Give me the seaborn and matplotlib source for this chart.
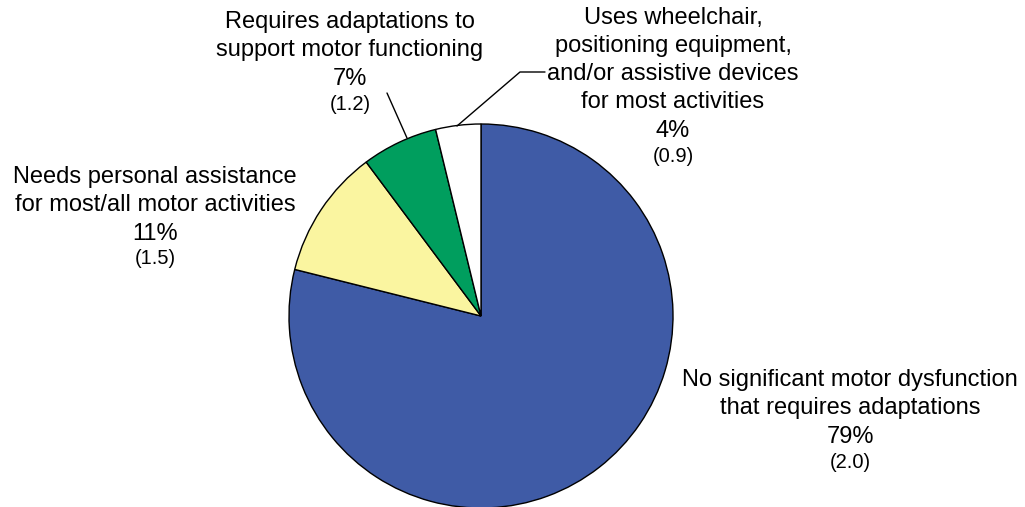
import matplotlib
matplotlib.use("Agg")
import matplotlib.pyplot as plt
import seaborn as sns

# categories, shares, printed percent and value
labels = [
    "No significant motor dysfunction\nthat requires adaptations",
    "Needs personal assistance\nfor most/all motor activities",
    "Requires adaptations to\nsupport motor functioning",
    "Uses wheelchair,\npositioning equipment,\nand/or assistive devices\nfor most activities",
]
shares = [78.9, 10.9, 6.4, 3.8]
pct_text = ["79%", "11%", "7%", "4%"]
val_text = ["(2.0)", "(1.5)", "(1.2)", "(0.9)"]
colors = ["#3F5BA6", "#FAF5A0", "#009E5E", "#FFFFFF"]

sns.set_theme(style="white")
plt.rcParams["font.family"] = ["Liberation Sans", "DejaVu Sans"]

W, H = 1025, 507
fig = plt.figure(figsize=(W / 100, H / 100), dpi=100)
ax = fig.add_axes([0, 0, 1, 1])

ax.pie(shares, colors=colors, startangle=90, counterclock=False,
       center=(481, H - 316), radius=192, frame=True,
       wedgeprops=dict(edgecolor="black", linewidth=1.0))
ax.set_xlim(0, W)
ax.set_ylim(0, H)
ax.set_aspect("equal")
ax.axis("off")

# label block: (center x, top line y in pixels)
blocks = [(850, 380), (155, 177), (350, 22), (673, 18)]
step = 28
for lab, p, v, (cx, y0) in zip(labels, pct_text, val_text, blocks):
    lines = lab.split("\n")
    for i, ln in enumerate(lines):
        ax.text(cx, H - (y0 + i * step), ln, ha="center", va="center",
                fontsize=17, color="black")
    n = len(lines)
    ax.text(cx, H - (y0 + n * step + 1), p, ha="center", va="center",
            fontsize=17, color="black")
    ax.text(cx, H - (y0 + (n + 1) * step - 2), v, ha="center",
            va="center", fontsize=14.5, color="black")

# leader lines
ax.plot([387, 407], [H - 93, H - 138], color="black", lw=1)
ax.plot([457, 520, 545], [H - 126, H - 72, H - 72], color="black", lw=1)

fig.savefig("out.png", dpi=100, facecolor="white")
